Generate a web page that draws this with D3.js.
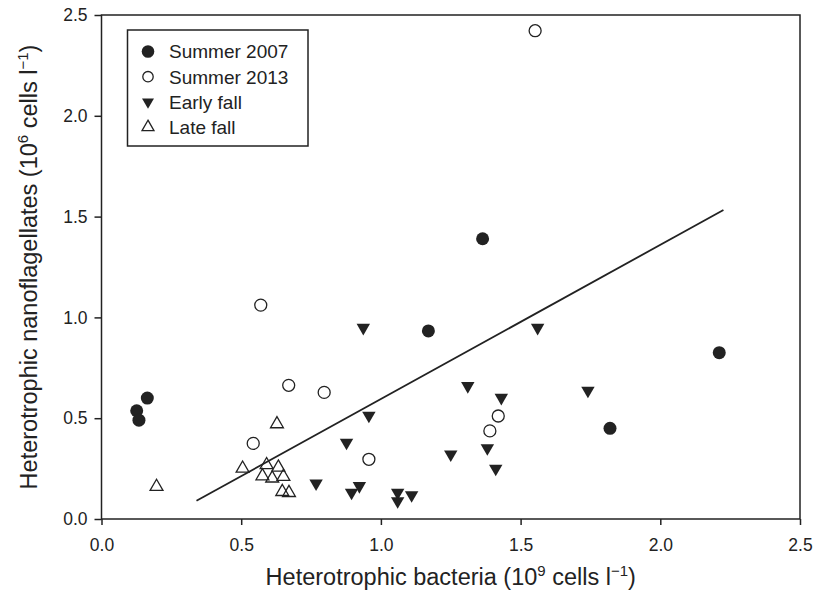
<!DOCTYPE html>
<html>
<head>
<meta charset="utf-8">
<script src="https://cdn.jsdelivr.net/npm/d3@7"></script>
<style>
  body { margin: 0; background: #fff; }
  text { font-family: "Liberation Sans", Arial, sans-serif; fill: #222; }
</style>
</head>
<body>
<div id="chart"></div>
<script>
// Data
const summer2007X = [0.126, 0.134, 0.164, 1.170, 1.364, 1.820, 2.211];
const summer2007Y = [0.537, 0.490, 0.600, 0.933, 1.390, 0.450, 0.825];

const summer2013X = [0.543, 0.570, 0.670, 0.797, 0.957, 1.390, 1.420, 1.552];
const summer2013Y = [0.375, 1.061, 0.663, 0.628, 0.296, 0.437, 0.511, 2.422];

const earlyFallX = [0.768, 0.877, 0.895, 0.923, 0.937, 0.957, 1.060, 1.060, 1.110, 1.250, 1.311, 1.381, 1.411, 1.431, 1.561, 1.741];
const earlyFallY = [0.177, 0.379, 0.131, 0.164, 0.949, 0.513, 0.131, 0.089, 0.119, 0.321, 0.660, 0.352, 0.250, 0.602, 0.949, 0.637];

const lateFallX = [0.197, 0.505, 0.576, 0.591, 0.611, 0.628, 0.633, 0.647, 0.651, 0.671];
const lateFallY = [0.160, 0.251, 0.213, 0.268, 0.202, 0.471, 0.256, 0.135, 0.210, 0.130];

// regression line y = a + b x over the fitted range
const fitIntercept = -0.170;
const fitSlope = 0.765;
const fitRange = [0.34, 2.226];

const xTicks = [0, 0.5, 1.0, 1.5, 2.0, 2.5];
const yTicks = [0, 0.5, 1.0, 1.5, 2.0, 2.5];
const seriesNames = ['Summer 2007', 'Summer 2013', 'Early fall', 'Late fall'];

const width = 823;
const height = 593;
const plotLeft = 101.5, plotRight = 800, plotTop = 15, plotBottom = 519;
const ink = '#222';

const svg = d3.select('#chart')
    .append('svg')
    .attr('width', width)
    .attr('height', height);

const x = d3.scaleLinear().domain([0, 2.5]).range([plotLeft, plotRight]);
const y = d3.scaleLinear().domain([0, 2.5]).range([plotBottom, plotTop]);

// frame
svg.append('rect')
    .attr('x', plotLeft).attr('y', plotTop)
    .attr('width', plotRight - plotLeft).attr('height', plotBottom - plotTop)
    .attr('fill', 'none')
    .attr('stroke', ink)
    .attr('stroke-width', 1.5);

// axes
const xAxis = svg.append('g')
    .attr('transform', `translate(0,${plotBottom})`)
    .call(d3.axisBottom(x).tickValues(xTicks).tickFormat(d3.format('.1f')).tickSize(6).tickPadding(14));
const yAxis = svg.append('g')
    .attr('transform', `translate(${plotLeft},0)`)
    .call(d3.axisLeft(y).tickValues(yTicks).tickFormat(d3.format('.1f')).tickSize(7).tickPadding(7));

[xAxis, yAxis].forEach(g => {
    g.select('.domain').remove();
    g.selectAll('line').attr('stroke', ink).attr('stroke-width', 1.5);
    g.selectAll('text')
        .style('font-family', '"Liberation Sans", Arial, sans-serif')
        .style('font-size', '17.5px')
        .attr('fill', ink);
});

// regression line
svg.append('line')
    .attr('x1', x(fitRange[0])).attr('y1', y(fitIntercept + fitSlope * fitRange[0]))
    .attr('x2', x(fitRange[1])).attr('y2', y(fitIntercept + fitSlope * fitRange[1]))
    .attr('stroke', ink)
    .attr('stroke-width', 1.8);

// marker helpers
const triangle = d3.symbol().type(d3.symbolTriangle);

function drawCircles(xs, ys, filled) {
    svg.append('g').selectAll('circle')
        .data(xs)
        .enter().append('circle')
        .attr('cx', d => x(d))
        .attr('cy', (d, i) => y(ys[i]))
        .attr('r', filled ? 6.5 : 6)
        .attr('fill', filled ? ink : '#fff')
        .attr('stroke', ink)
        .attr('stroke-width', filled ? 0 : 1.3);
}

function drawTriangles(xs, ys, down) {
    svg.append('g').selectAll('path')
        .data(xs)
        .enter().append('path')
        .attr('d', triangle.size(down ? 78 : 72)())
        .attr('transform', (d, i) => `translate(${x(d)},${y(ys[i])})` + (down ? ' rotate(180)' : ''))
        .attr('fill', down ? ink : 'none')
        .attr('stroke', ink)
        .attr('stroke-width', down ? 0 : 1.3);
}

drawTriangles(lateFallX, lateFallY, false);
drawTriangles(earlyFallX, earlyFallY, true);
drawCircles(summer2013X, summer2013Y, false);
drawCircles(summer2007X, summer2007Y, true);

// legend
const legend = svg.append('g');
legend.append('rect')
    .attr('x', 127.5).attr('y', 30)
    .attr('width', 180.5).attr('height', 116)
    .attr('fill', '#fff')
    .attr('stroke', ink)
    .attr('stroke-width', 1.5);

seriesNames.forEach((name, i) => {
    const cy = 51.5 + i * 25.2;
    if (i === 0) {
        legend.append('circle').attr('cx', 148).attr('cy', cy).attr('r', 6.3).attr('fill', ink);
    } else if (i === 1) {
        legend.append('circle').attr('cx', 148).attr('cy', cy).attr('r', 5.2)
            .attr('fill', '#fff').attr('stroke', ink).attr('stroke-width', 1.3);
    } else {
        legend.append('path')
            .attr('d', triangle.size(62)())
            .attr('transform', `translate(148,${cy})` + (i === 2 ? ' rotate(180)' : ''))
            .attr('fill', i === 2 ? ink : 'none')
            .attr('stroke', ink)
            .attr('stroke-width', i === 2 ? 0 : 1.3);
    }
    legend.append('text')
        .attr('x', 169).attr('y', cy)
        .attr('dy', '0.36em')
        .style('font-size', '19px')
        .text(name);
});

// axis titles with superscripts (shift in px so the baseline returns exactly)
function addTitle(sel, before, sup1) {
    sel.append('tspan').text(before + ' (10');
    sel.append('tspan').attr('dy', -9).style('font-size', '15px').text(sup1);
    sel.append('tspan').attr('dy', 9).text(' cells l');
    sel.append('tspan').attr('dy', -9).style('font-size', '15px').text('\u22121');
    sel.append('tspan').attr('dy', 9).text(')');
}

const xTitle = svg.append('text')
    .attr('x', (plotLeft + plotRight) / 2)
    .attr('y', 585)
    .attr('text-anchor', 'middle')
    .style('font-size', '23.5px');
addTitle(xTitle, 'Heterotrophic bacteria', '9');

const yTitle = svg.append('text')
    .attr('transform', `translate(37,${(plotTop + plotBottom) / 2}) rotate(-90)`)
    .attr('text-anchor', 'middle')
    .style('font-size', '23.5px');
addTitle(yTitle, 'Heterotrophic nanoflagellates', '6');
</script>
</body>
</html>
